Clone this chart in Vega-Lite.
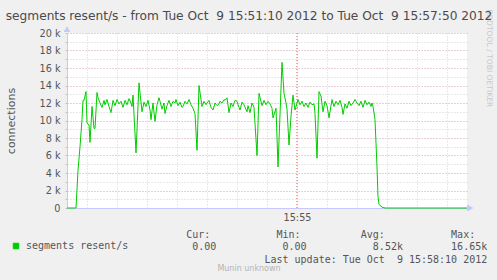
{
  "$schema": "https://vega.github.io/schema/vega-lite/v6.json",
  "autosize": "none",
  "width": 400,
  "height": 175,
  "padding": {"left": 67, "top": 33, "right": 30, "bottom": 72},
  "background": "#f0f0f0",
  "title": {
    "text": "segments resent/s - from Tue Oct\u00a0 9 15:51:10 2012 to Tue Oct\u00a0 9 15:57:50 2012",
    "font": "DejaVu Sans",
    "fontSize": 12.2,
    "fontWeight": "normal",
    "color": "#4a4a4a",
    "anchor": "middle",
    "frame": "group",
    "dx": -18,
    "offset": -13
  },
  "config": {
    "view": {"fill": "white", "stroke": null}
  },
  "data": {
    "values": [
      {"t": "2012-10-09T15:51:10", "v": 0},
      {"t": "2012-10-09T15:51:19", "v": 0},
      {"t": "2012-10-09T15:51:21", "v": 4300},
      {"t": "2012-10-09T15:51:23", "v": 7000},
      {"t": "2012-10-09T15:51:25", "v": 10100},
      {"t": "2012-10-09T15:51:26", "v": 12300},
      {"t": "2012-10-09T15:51:27", "v": 12300},
      {"t": "2012-10-09T15:51:29", "v": 13300},
      {"t": "2012-10-09T15:51:30", "v": 9700},
      {"t": "2012-10-09T15:51:32", "v": 9500},
      {"t": "2012-10-09T15:51:33", "v": 7500},
      {"t": "2012-10-09T15:51:35", "v": 11600},
      {"t": "2012-10-09T15:51:37", "v": 9100},
      {"t": "2012-10-09T15:51:38", "v": 9100},
      {"t": "2012-10-09T15:51:40", "v": 13200},
      {"t": "2012-10-09T15:51:41", "v": 12600},
      {"t": "2012-10-09T15:51:43", "v": 12000},
      {"t": "2012-10-09T15:51:45", "v": 11500},
      {"t": "2012-10-09T15:51:47", "v": 12300},
      {"t": "2012-10-09T15:51:48", "v": 11800},
      {"t": "2012-10-09T15:51:50", "v": 12400},
      {"t": "2012-10-09T15:51:52", "v": 11600},
      {"t": "2012-10-09T15:51:54", "v": 10900},
      {"t": "2012-10-09T15:51:56", "v": 12300},
      {"t": "2012-10-09T15:51:58", "v": 11700},
      {"t": "2012-10-09T15:52:00", "v": 12400},
      {"t": "2012-10-09T15:52:02", "v": 11900},
      {"t": "2012-10-09T15:52:04", "v": 12200},
      {"t": "2012-10-09T15:52:06", "v": 11500},
      {"t": "2012-10-09T15:52:08", "v": 12300},
      {"t": "2012-10-09T15:52:10", "v": 11800},
      {"t": "2012-10-09T15:52:12", "v": 12500},
      {"t": "2012-10-09T15:52:14", "v": 12000},
      {"t": "2012-10-09T15:52:15", "v": 11600},
      {"t": "2012-10-09T15:52:16", "v": 12900},
      {"t": "2012-10-09T15:52:19", "v": 6300},
      {"t": "2012-10-09T15:52:22", "v": 14300},
      {"t": "2012-10-09T15:52:25", "v": 11000},
      {"t": "2012-10-09T15:52:27", "v": 12100},
      {"t": "2012-10-09T15:52:29", "v": 11600},
      {"t": "2012-10-09T15:52:31", "v": 12300},
      {"t": "2012-10-09T15:52:33", "v": 11200},
      {"t": "2012-10-09T15:52:34", "v": 10100},
      {"t": "2012-10-09T15:52:36", "v": 12000},
      {"t": "2012-10-09T15:52:38", "v": 9900},
      {"t": "2012-10-09T15:52:40", "v": 11800},
      {"t": "2012-10-09T15:52:42", "v": 12600},
      {"t": "2012-10-09T15:52:43", "v": 12200},
      {"t": "2012-10-09T15:52:45", "v": 11300},
      {"t": "2012-10-09T15:52:47", "v": 12000},
      {"t": "2012-10-09T15:52:48", "v": 10800},
      {"t": "2012-10-09T15:52:50", "v": 11700},
      {"t": "2012-10-09T15:52:52", "v": 12300},
      {"t": "2012-10-09T15:52:54", "v": 11600},
      {"t": "2012-10-09T15:52:56", "v": 12200},
      {"t": "2012-10-09T15:52:58", "v": 12000},
      {"t": "2012-10-09T15:52:59", "v": 12400},
      {"t": "2012-10-09T15:53:01", "v": 11700},
      {"t": "2012-10-09T15:53:03", "v": 12100},
      {"t": "2012-10-09T15:53:05", "v": 11500},
      {"t": "2012-10-09T15:53:06", "v": 11600},
      {"t": "2012-10-09T15:53:08", "v": 12200},
      {"t": "2012-10-09T15:53:10", "v": 11900},
      {"t": "2012-10-09T15:53:12", "v": 12400},
      {"t": "2012-10-09T15:53:14", "v": 11800},
      {"t": "2012-10-09T15:53:16", "v": 11400},
      {"t": "2012-10-09T15:53:18", "v": 10800},
      {"t": "2012-10-09T15:53:20", "v": 6600},
      {"t": "2012-10-09T15:53:22", "v": 14000},
      {"t": "2012-10-09T15:53:25", "v": 11600},
      {"t": "2012-10-09T15:53:27", "v": 12200},
      {"t": "2012-10-09T15:53:29", "v": 11800},
      {"t": "2012-10-09T15:53:30", "v": 12000},
      {"t": "2012-10-09T15:53:32", "v": 12300},
      {"t": "2012-10-09T15:53:34", "v": 11500},
      {"t": "2012-10-09T15:53:36", "v": 11200},
      {"t": "2012-10-09T15:53:38", "v": 12000},
      {"t": "2012-10-09T15:53:40", "v": 11700},
      {"t": "2012-10-09T15:53:42", "v": 11900},
      {"t": "2012-10-09T15:53:43", "v": 12200},
      {"t": "2012-10-09T15:53:45", "v": 12000},
      {"t": "2012-10-09T15:53:47", "v": 12400},
      {"t": "2012-10-09T15:53:48", "v": 12300},
      {"t": "2012-10-09T15:53:50", "v": 12600},
      {"t": "2012-10-09T15:53:52", "v": 10900},
      {"t": "2012-10-09T15:53:54", "v": 12000},
      {"t": "2012-10-09T15:53:56", "v": 11600},
      {"t": "2012-10-09T15:53:58", "v": 12300},
      {"t": "2012-10-09T15:54:00", "v": 12200},
      {"t": "2012-10-09T15:54:01", "v": 11800},
      {"t": "2012-10-09T15:54:03", "v": 11200},
      {"t": "2012-10-09T15:54:05", "v": 12100},
      {"t": "2012-10-09T15:54:07", "v": 11800},
      {"t": "2012-10-09T15:54:10", "v": 11000},
      {"t": "2012-10-09T15:54:11", "v": 11700},
      {"t": "2012-10-09T15:54:13", "v": 10900},
      {"t": "2012-10-09T15:54:15", "v": 12000},
      {"t": "2012-10-09T15:54:17", "v": 11500},
      {"t": "2012-10-09T15:54:20", "v": 6000},
      {"t": "2012-10-09T15:54:22", "v": 13100},
      {"t": "2012-10-09T15:54:25", "v": 11700},
      {"t": "2012-10-09T15:54:27", "v": 12300},
      {"t": "2012-10-09T15:54:29", "v": 11800},
      {"t": "2012-10-09T15:54:31", "v": 12200},
      {"t": "2012-10-09T15:54:33", "v": 11900},
      {"t": "2012-10-09T15:54:35", "v": 11400},
      {"t": "2012-10-09T15:54:36", "v": 10300},
      {"t": "2012-10-09T15:54:39", "v": 11400},
      {"t": "2012-10-09T15:54:41", "v": 4700},
      {"t": "2012-10-09T15:54:45", "v": 16650},
      {"t": "2012-10-09T15:54:47", "v": 13100},
      {"t": "2012-10-09T15:54:49", "v": 12000},
      {"t": "2012-10-09T15:54:50", "v": 11300},
      {"t": "2012-10-09T15:54:52", "v": 7200},
      {"t": "2012-10-09T15:54:54", "v": 10500},
      {"t": "2012-10-09T15:54:56", "v": 12900},
      {"t": "2012-10-09T15:54:58", "v": 11200},
      {"t": "2012-10-09T15:55:01", "v": 12400},
      {"t": "2012-10-09T15:55:03", "v": 11800},
      {"t": "2012-10-09T15:55:05", "v": 12200},
      {"t": "2012-10-09T15:55:07", "v": 11600},
      {"t": "2012-10-09T15:55:09", "v": 12000},
      {"t": "2012-10-09T15:55:11", "v": 11500},
      {"t": "2012-10-09T15:55:13", "v": 12100},
      {"t": "2012-10-09T15:55:15", "v": 11800},
      {"t": "2012-10-09T15:55:17", "v": 11900},
      {"t": "2012-10-09T15:55:18", "v": 10800},
      {"t": "2012-10-09T15:55:20", "v": 5700},
      {"t": "2012-10-09T15:55:22", "v": 13300},
      {"t": "2012-10-09T15:55:24", "v": 12800},
      {"t": "2012-10-09T15:55:26", "v": 11000},
      {"t": "2012-10-09T15:55:28", "v": 12200},
      {"t": "2012-10-09T15:55:30", "v": 11700},
      {"t": "2012-10-09T15:55:32", "v": 10300},
      {"t": "2012-10-09T15:55:35", "v": 12400},
      {"t": "2012-10-09T15:55:37", "v": 11600},
      {"t": "2012-10-09T15:55:39", "v": 12200},
      {"t": "2012-10-09T15:55:41", "v": 11800},
      {"t": "2012-10-09T15:55:43", "v": 12300},
      {"t": "2012-10-09T15:55:45", "v": 11500},
      {"t": "2012-10-09T15:55:46", "v": 10700},
      {"t": "2012-10-09T15:55:48", "v": 11900},
      {"t": "2012-10-09T15:55:50", "v": 11400},
      {"t": "2012-10-09T15:55:52", "v": 12200},
      {"t": "2012-10-09T15:55:54", "v": 11700},
      {"t": "2012-10-09T15:55:56", "v": 12000},
      {"t": "2012-10-09T15:55:58", "v": 12400},
      {"t": "2012-10-09T15:56:00", "v": 12000},
      {"t": "2012-10-09T15:56:02", "v": 11700},
      {"t": "2012-10-09T15:56:04", "v": 12200},
      {"t": "2012-10-09T15:56:06", "v": 11500},
      {"t": "2012-10-09T15:56:08", "v": 12300},
      {"t": "2012-10-09T15:56:10", "v": 11800},
      {"t": "2012-10-09T15:56:12", "v": 12100},
      {"t": "2012-10-09T15:56:14", "v": 11600},
      {"t": "2012-10-09T15:56:15", "v": 12000},
      {"t": "2012-10-09T15:56:16", "v": 11600},
      {"t": "2012-10-09T15:56:18", "v": 10100},
      {"t": "2012-10-09T15:56:20", "v": 4700},
      {"t": "2012-10-09T15:56:21", "v": 1300},
      {"t": "2012-10-09T15:56:22", "v": 400},
      {"t": "2012-10-09T15:56:25", "v": 100},
      {"t": "2012-10-09T15:56:28", "v": 0},
      {"t": "2012-10-09T15:57:50", "v": 0}
    ]
  },
  "resolve": {"axis": {"x": "independent", "y": "independent"}},
  "layer": [
    {
      "mark": {"type": "rule", "color": "#f2a4a4", "strokeDash": [1, 2], "strokeWidth": 1},
      "encoding": {
        "x": {
          "datum": {"year": 2012, "month": 10, "date": 9, "hours": 15, "minutes": 55, "seconds": 0},
          "type": "temporal",
          "axis": {
            "orient": "bottom",
            "title": "Munin unknown",
            "labels": false,
            "ticks": false,
            "domain": false,
            "grid": false,
            "titleFont": "DejaVu Sans",
            "titleFontSize": 8,
            "titleFontWeight": "normal",
            "titleColor": "#b4b4b4",
            "titleX": 181.5,
            "titleY": 60.5,
            "titleAlign": "center",
            "titleBaseline": "middle"
          }
        },
        "y": {
          "datum": 0,
          "type": "quantitative",
          "axis": {
            "orient": "right",
            "values": [2000, 4000, 6000, 8000, 10000, 12000, 14000, 16000, 18000, 20000],
            "grid": true,
            "gridColor": "#f2a4a4",
            "gridDash": [1, 2],
            "title": "RRDTOOL / TOBI OETIKER",
            "labels": false,
            "ticks": false,
            "domain": false,
            "titleFont": "DejaVu Sans",
            "titleFontSize": 7.6,
            "titleFontWeight": "normal",
            "titleColor": "#c8c8c8",
            "titleAngle": 90,
            "titleX": 21,
            "titleY": -24,
            "titleAlign": "left",
            "titleBaseline": "middle"
          }
        },
        "y2": {"datum": 20000}
      }
    },
    {
      "mark": {"type": "line", "strokeWidth": 1, "interpolate": "linear"},
      "encoding": {
        "x": {
          "field": "t",
          "type": "temporal",
          "scale": {
            "domain": [
              {"year": 2012, "month": 10, "date": 9, "hours": 15, "minutes": 51, "seconds": 10},
              {"year": 2012, "month": 10, "date": 9, "hours": 15, "minutes": 57, "seconds": 50}
            ],
            "nice": false
          },
          "axis": {
            "orient": "bottom",
            "values": [
              {"year": 2012, "month": 10, "date": 9, "hours": 15, "minutes": 51, "seconds": 30},
              {"year": 2012, "month": 10, "date": 9, "hours": 15, "minutes": 52, "seconds": 0},
              {"year": 2012, "month": 10, "date": 9, "hours": 15, "minutes": 52, "seconds": 30},
              {"year": 2012, "month": 10, "date": 9, "hours": 15, "minutes": 53, "seconds": 0},
              {"year": 2012, "month": 10, "date": 9, "hours": 15, "minutes": 53, "seconds": 30},
              {"year": 2012, "month": 10, "date": 9, "hours": 15, "minutes": 54, "seconds": 0},
              {"year": 2012, "month": 10, "date": 9, "hours": 15, "minutes": 54, "seconds": 30},
              {"year": 2012, "month": 10, "date": 9, "hours": 15, "minutes": 55, "seconds": 0},
              {"year": 2012, "month": 10, "date": 9, "hours": 15, "minutes": 55, "seconds": 30},
              {"year": 2012, "month": 10, "date": 9, "hours": 15, "minutes": 56, "seconds": 0},
              {"year": 2012, "month": 10, "date": 9, "hours": 15, "minutes": 56, "seconds": 30},
              {"year": 2012, "month": 10, "date": 9, "hours": 15, "minutes": 57, "seconds": 0},
              {"year": 2012, "month": 10, "date": 9, "hours": 15, "minutes": 57, "seconds": 30}
            ],
            "grid": true,
            "gridColor": "#d2d2d2",
            "gridDash": [1, 2],
            "ticks": false,
            "domainColor": "#c8c8ff",
            "labelExpr": "seconds(datum.value) === 0 && minutes(datum.value) % 5 === 0 ? timeFormat(datum.value, '%H:%M') : ''",
            "labelFont": "DejaVu Sans",
            "labelFontSize": 9.7,
            "labelColor": "#555555",
            "labelPadding": 4,
            "labelOverlap": false,
            "labelFlush": false,
            "title": [
              "Cur:\u00a0\u00a0\u00a0\u00a0\u00a0\u00a0\u00a0\u00a0\u00a0\u00a0\u00a0Min:\u00a0\u00a0\u00a0\u00a0\u00a0\u00a0\u00a0\u00a0\u00a0\u00a0Avg:\u00a0\u00a0\u00a0\u00a0\u00a0\u00a0\u00a0\u00a0\u00a0\u00a0\u00a0Max:",
              "\u200b\u00a00.00\u00a0\u00a0\u00a0\u00a0\u00a0\u00a0\u00a0\u00a0\u00a0\u00a0\u00a00.00\u00a0\u00a0\u00a0\u00a0\u00a0\u00a0\u00a0\u00a0\u00a0\u00a0\u00a08.52k\u00a0\u00a0\u00a0\u00a0\u00a0\u00a0\u00a0\u00a016.65k",
              "\u200b\u00a0\u00a0\u00a0\u00a0\u00a0\u00a0\u00a0\u00a0\u00a0\u00a0\u00a0\u00a0\u00a0Last update: Tue Oct\u00a0\u00a09 15:58:10 2012"
            ],
            "titleFont": "DejaVu Sans Mono",
            "titleFontSize": 10,
            "titleFontWeight": "normal",
            "titleColor": "#555555",
            "titleLineHeight": 12.3,
            "titleX": 118.7,
            "titleY": 29.5,
            "titleAlign": "left",
            "titleBaseline": "alphabetic"
          }
        },
        "y": {
          "field": "v",
          "type": "quantitative",
          "scale": {"domain": [0, 20000], "nice": false},
          "axis": {
            "orient": "left",
            "values": [0, 1000, 2000, 3000, 4000, 5000, 6000, 7000, 8000, 9000, 10000, 11000, 12000, 13000, 14000, 15000, 16000, 17000, 18000, 19000, 20000],
            "grid": true,
            "gridColor": "#d2d2d2",
            "gridDash": [1, 2],
            "domainColor": "#c8c8ff",
            "tickColor": "#c0c0c0",
            "tickSize": 2,
            "labelExpr": "datum.value % 2000 === 0 ? (datum.value === 0 ? '0' : (datum.value / 1000) + ' k') : ''",
            "labelFont": "DejaVu Sans",
            "labelFontSize": 9.7,
            "labelColor": "#555555",
            "labelPadding": 5,
            "labelOverlap": false,
            "labelFlush": false,
            "title": "connections",
            "titleFont": "DejaVu Sans",
            "titleFontSize": 11,
            "titleFontWeight": "normal",
            "titleColor": "#555555",
            "titleAngle": -90,
            "titleX": -56,
            "titleY": 87.5,
            "titleAlign": "center",
            "titleBaseline": "middle"
          }
        },
        "color": {
          "datum": "segments resent/s",
          "type": "nominal",
          "scale": {"range": ["#00cc00"]},
          "legend": {
            "orient": "none",
            "legendX": -56,
            "legendY": 208,
            "title": null,
            "padding": 0,
            "symbolType": "square",
            "symbolSize": 30,
            "symbolStrokeWidth": 1,
            "symbolFillColor": "#00cc00",
            "symbolStrokeColor": "#00cc00",
            "labelFont": "DejaVu Sans Mono",
            "labelFontSize": 10,
            "labelColor": "#555555",
            "labelOffset": 5
          }
        }
      }
    },
    {
      "mark": {"type": "point", "shape": "triangle-right", "filled": true, "color": "#c8c8ff", "size": 28, "opacity": 1},
      "encoding": {
        "x": {
          "datum": {"year": 2012, "month": 10, "date": 9, "hours": 15, "minutes": 57, "seconds": 53},
          "type": "temporal",
          "axis": null
        },
        "y": {"datum": 0, "type": "quantitative", "axis": null}
      }
    },
    {
      "mark": {"type": "point", "shape": "triangle-up", "filled": true, "color": "#c8c8ff", "size": 28, "opacity": 1},
      "encoding": {
        "x": {
          "datum": {"year": 2012, "month": 10, "date": 9, "hours": 15, "minutes": 51, "seconds": 10},
          "type": "temporal",
          "axis": null
        },
        "y": {"datum": 20400, "type": "quantitative", "axis": null}
      }
    }
  ]
}
